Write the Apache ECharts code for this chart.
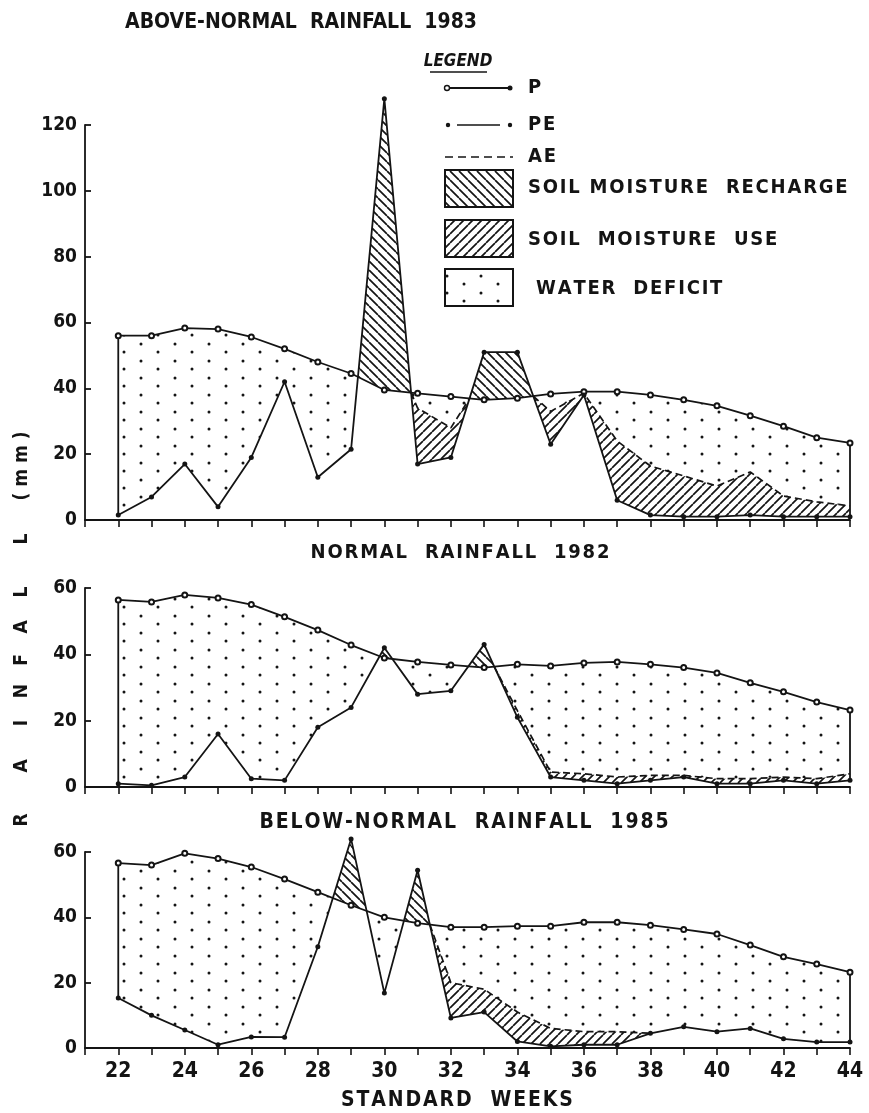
<!DOCTYPE html>
<html>
<head>
<meta charset="utf-8">
<script src="https://cdn.jsdelivr.net/npm/echarts@6/dist/echarts.min.js"></script>
<style>
html, body { margin: 0; padding: 0; background: #fff; }
#main { width: 869px; height: 1113px; }
</style>
</head>
<body>
<div id="main"></div>
<script>
// standard weeks on the x axis
var weeks = [22, 23, 24, 25, 26, 27, 28, 29, 30, 31, 32, 33, 34, 35, 36, 37, 38, 39, 40, 41, 42, 43, 44];
var weekLabels = [22, 24, 26, 28, 30, 32, 34, 36, 38, 40, 42, 44];

// above-normal 1983
var pTop  = [1.5, 7, 17, 4, 19, 42, 13, 21.5, 128, 17, 19, 51, 51, 23, 38, 6, 1.5, 1, 1, 1.5, 1, 1, 1];
var peTop = [56, 56, 58.3, 58, 55.6, 52, 48, 44.5, 39.5, 38.5, 37.5, 36.5, 37, 38.3, 39, 39, 38, 36.5, 34.7, 31.7, 28.5, 25, 23.4];
var aeTop = [1.5, 7, 17, 4, 19, 42, 13, 21.5, 39.5, 34, 28, 36.5, 37, 33, 38.5, 24, 16.4, 13.4, 10.3, 14.6, 7.3, 5.5, 4.3];

// normal 1982
var pMid  = [1, 0.5, 3, 16, 2.5, 2, 18, 24, 42, 28, 29, 43, 21, 3, 2, 1, 2, 3, 1, 1, 2, 1, 2];
var peMid = [56.4, 55.8, 57.9, 57, 55, 51.3, 47.3, 42.8, 38.9, 37.7, 36.8, 36, 37, 36.5, 37.4, 37.7, 37, 36, 34.4, 31.4, 28.7, 25.6, 23.2];
var aeMid = [1, 0.5, 3, 16, 2.5, 2, 18, 24, 38.9, 28, 29, 36, 23, 4.5, 4, 3, 3.5, 3.5, 2.5, 2.5, 3, 2.5, 4];

// below-normal 1985
var pBot  = [15.3, 10, 5.5, 1, 3.4, 3.3, 31, 64, 16.8, 54.4, 9.2, 11, 2, 0.5, 1, 1, 4.5, 6.5, 5, 6, 2.8, 1.8, 1.8];
var peBot = [56.6, 56, 59.6, 58, 55.4, 51.7, 47.7, 43.7, 40, 38.2, 37, 37, 37.3, 37.3, 38.5, 38.5, 37.6, 36.3, 34.9, 31.5, 27.9, 25.7, 23.2];
var aeBot = [15.3, 10, 5.5, 1, 3.4, 3.3, 31, 43.7, 16.8, 38.2, 20, 18, 11, 6, 5, 5, 4.5, 6.5, 5, 6, 2.8, 1.8, 1.8];

var panelTitles = ['ABOVE-NORMAL  RAINFALL  1983', 'NORMAL  RAINFALL  1982', 'BELOW-NORMAL  RAINFALL  1985'];
var yMax = [120, 60, 60];

var F = '"DejaVu Sans Condensed", "DejaVu Sans", sans-serif';
var INK = '#141414';

function hatch(dir)
{
    var s = 9;
    var c = document.createElement('canvas');
    c.width = s; c.height = s;
    var g = c.getContext('2d');
    g.strokeStyle = INK;
    g.lineWidth = 1.7;
    g.beginPath();
    for (var k = -1; k <= 1; k++) {
        if (dir > 0) {
            g.moveTo(k * s, s); g.lineTo(k * s + s, 0);
        } else {
            g.moveTo(k * s, 0); g.lineTo(k * s + s, s);
        }
    }
    g.stroke();
    return c;
}

function dots()
{
    var c = document.createElement('canvas');
    c.width = 34; c.height = 17;
    var g = c.getContext('2d');
    g.fillStyle = INK;
    g.beginPath(); g.arc(5, 4, 1.5, 0, Math.PI * 2); g.fill();
    g.beginPath(); g.arc(22, 12, 1.5, 0, Math.PI * 2); g.fill();
    return c;
}

var RECHARGE = {image: hatch(-1), repeat: 'repeat'};
var USE = {image: hatch(1), repeat: 'repeat'};
var DEFICIT = {image: dots(), repeat: 'repeat'};

// add P/PE crossings so the fills switch where the lines cross
function refine(p, pe, ae)
{
    var r = {x: [], p: [], pe: [], ae: []};
    for (var i = 0; i < weeks.length; i++) {
        var a = p[i] >= pe[i] ? pe[i] : Math.min(Math.max(ae[i], p[i]), pe[i]);
        r.x.push(weeks[i]); r.p.push(p[i]); r.pe.push(pe[i]); r.ae.push(a);
        if (i < weeks.length - 1) {
            var d0 = p[i] - pe[i], d1 = p[i + 1] - pe[i + 1];
            if (d0 * d1 < 0) {
                var t = d0 / (d0 - d1);
                var y = p[i] + t * (p[i + 1] - p[i]);
                r.x.push(weeks[i] + t * (weeks[i + 1] - weeks[i]));
                r.p.push(y); r.pe.push(y); r.ae.push(y);
            }
        }
    }
    return r;
}

// polygons where up > lo
function bands(x, up, lo)
{
    var polys = [], top = [], bot = [];
    function flush() {
        if (top.length > 1) polys.push(top.concat(bot.reverse()));
        top = []; bot = [];
    }
    for (var i = 0; i < x.length; i++) {
        var d = up[i] - lo[i];
        if (d > 0) { top.push([x[i], up[i]]); bot.push([x[i], lo[i]]); }
        if (i < x.length - 1) {
            var d1 = up[i + 1] - lo[i + 1];
            if ((d > 0) !== (d1 > 0)) {
                var t = d / (d - d1);
                var cx = x[i] + t * (x[i + 1] - x[i]);
                var cy = up[i] + t * (up[i + 1] - up[i]);
                top.push([cx, cy]); bot.push([cx, cy]);
                if (d > 0) flush();
            }
        }
    }
    flush();
    return polys;
}

function fillSeries(gi, polys, fill)
{
    return {
        type: 'custom', xAxisIndex: gi, yAxisIndex: gi, z: 1, silent: true,
        data: polys.map(function (pl) { return pl[0]; }),
        renderItem: function (params, api) {
            var pts = polys[params.dataIndex].map(function (q) { return api.coord(q); });
            return {type: 'polygon', shape: {points: pts}, style: {fill: fill, stroke: null}};
        }
    };
}

function edgeSeries(gi, p, pe)
{
    var ends = [0, weeks.length - 1];
    return {
        type: 'custom', xAxisIndex: gi, yAxisIndex: gi, z: 3, silent: true,
        data: ends.map(function (i) { return [weeks[i], pe[i], p[i]]; }),
        encode: {x: 0, y: [1, 2]},
        renderItem: function (params, api) {
            var a = api.coord([api.value(0), api.value(1)]);
            var b = api.coord([api.value(0), api.value(2)]);
            return {type: 'line', shape: {x1: a[0], y1: a[1], x2: b[0], y2: b[1]},
                    style: {stroke: INK, lineWidth: 1.8}};
        }
    };
}

function panelSeries(gi, p, pe, ae)
{
    var r = refine(p, pe, ae);
    var aeLine = [];
    for (var j = 0; j < r.x.length; j++) {
        var on = false;
        for (var k = Math.max(0, j - 1); k <= Math.min(r.x.length - 1, j + 1); k++) {
            if (r.ae[k] - r.p[k] > 0.05) on = true;
        }
        aeLine.push([r.x[j], on ? r.ae[j] : null]);
    }
    return [
        fillSeries(gi, bands(r.x, r.pe, r.ae), DEFICIT),
        fillSeries(gi, bands(r.x, r.ae, r.p), USE),
        fillSeries(gi, bands(r.x, r.p, r.pe), RECHARGE),
        edgeSeries(gi, p, pe),
        {
            name: 'PE', type: 'line', xAxisIndex: gi, yAxisIndex: gi, z: 4, clip: false,
            data: weeks.map(function (w, i) { return [w, pe[i]]; }),
            symbol: 'emptyCircle', symbolSize: 5,
            itemStyle: {color: INK, borderWidth: 1.2},
            lineStyle: {color: INK, width: 1.8}
        },
        {
            name: 'AE', type: 'line', xAxisIndex: gi, yAxisIndex: gi, z: 4, clip: false,
            data: aeLine, showSymbol: false, connectNulls: false,
            lineStyle: {color: INK, width: 1.7, type: [7, 4]}
        },
        {
            name: 'P', type: 'line', xAxisIndex: gi, yAxisIndex: gi, z: 5, clip: false,
            data: weeks.map(function (w, i) { return [w, p[i]]; }),
            symbol: 'circle', symbolSize: 5,
            itemStyle: {color: INK},
            lineStyle: {color: INK, width: 1.8}
        }
    ];
}

var grids = [
    {left: 85, right: 19, top: 125, height: 395},
    {left: 85, right: 19, top: 588, height: 199},
    {left: 85, right: 19, top: 852, height: 196}
];

var xAxes = grids.map(function (g, gi) {
    return {
        gridIndex: gi, type: 'value', min: 21, max: 44, interval: 1,
        axisLine: {lineStyle: {color: INK, width: 1.8}},
        axisTick: {show: true, length: 7, lineStyle: {color: INK, width: 1.6}},
        axisLabel: {
            show: gi === 2, margin: 13, fontSize: 21, fontWeight: 'bold', color: INK, fontFamily: F,
            formatter: function (v) { return weekLabels.indexOf(v) >= 0 ? String(v) : ''; }
        },
        splitLine: {show: false}
    };
});

var yAxes = grids.map(function (g, gi) {
    return {
        gridIndex: gi, type: 'value', min: 0, max: yMax[gi], interval: 20,
        axisLine: {show: true, lineStyle: {color: INK, width: 1.8}},
        axisTick: {show: true, inside: true, length: 6, lineStyle: {color: INK, width: 1.8}},
        axisLabel: {margin: 8, fontSize: 19, fontWeight: 'bold', color: INK, fontFamily: F},
        splitLine: {show: false}
    };
});

var series = []
    .concat(panelSeries(0, pTop, peTop, aeTop))
    .concat(panelSeries(1, pMid, peMid, aeMid))
    .concat(panelSeries(2, pBot, peBot, aeBot));

// wide lettering: a hair space between characters
function spaced(s)
{
    return s.split('').join('\u200A');
}

function txt(x, y, s, size, extra)
{
    var st = {text: s, x: x, y: y, fill: INK, font: 'bold ' + size + 'px ' + F,
              textAlign: 'center', textVerticalAlign: 'middle'};
    for (var k in extra) st[k] = extra[k];
    return {type: 'text', style: st, z: 10};
}

var graphic = [];
graphic.push(txt(301, 23, panelTitles[0], 21));
graphic.push(txt(460, 553, spaced(panelTitles[1]), 20));
graphic.push(txt(464, 823, spaced(panelTitles[2]), 21));
graphic.push(txt(457, 1101, spaced('STANDARD  WEEKS'), 21));

// vertical axis title, letter by letter
var yTitle = ['R', 'A', 'I', 'N', 'F', 'A', 'L', 'L'];
var yTitlePos = [820, 766, 723, 691, 660, 627, 592, 539];
yTitle.forEach(function (ch, i) {
    var t = txt(0, 0, ch, 19);
    t.rotation = Math.PI / 2; t.x = 22; t.y = yTitlePos[i];
    graphic.push(t);
});
var mm = txt(0, 0, '( m m )', 19);
mm.rotation = Math.PI / 2; mm.x = 22; mm.y = 466;
graphic.push(mm);

// legend
graphic.push(txt(458, 62, 'LEGEND', 16, {font: 'italic bold 17px ' + F}));
graphic.push({type: 'line', shape: {x1: 430, y1: 72, x2: 487, y2: 72}, style: {stroke: INK, lineWidth: 1.6}});
graphic.push({type: 'line', shape: {x1: 447, y1: 88, x2: 510, y2: 88}, style: {stroke: INK, lineWidth: 1.8}});
graphic.push({type: 'circle', shape: {cx: 447, cy: 88, r: 2.5}, style: {fill: '#fff', stroke: INK, lineWidth: 1.4}});
graphic.push({type: 'circle', shape: {cx: 510, cy: 88, r: 2.5}, style: {fill: INK}});
graphic.push({type: 'line', shape: {x1: 457, y1: 125, x2: 500, y2: 125}, style: {stroke: INK, lineWidth: 1.6}});
graphic.push({type: 'circle', shape: {cx: 448, cy: 125, r: 2.2}, style: {fill: INK}});
graphic.push({type: 'circle', shape: {cx: 510, cy: 125, r: 2.2}, style: {fill: INK}});
graphic.push({type: 'line', shape: {x1: 445, y1: 157, x2: 513, y2: 157}, style: {stroke: INK, lineWidth: 1.6, lineDash: [8, 5]}});
var legendText = [['P', 88], ['PE', 125], ['AE', 157], ['SOIL MOISTURE  RECHARGE', 188], ['SOIL  MOISTURE  USE', 240], [' WATER  DEFICIT', 289]];
legendText.forEach(function (lt) {
    graphic.push(txt(528, lt[1], spaced(lt[0]), 20, {textAlign: 'left'}));
});
[[170, RECHARGE], [220, USE], [269, DEFICIT]].forEach(function (b) {
    graphic.push({type: 'rect', shape: {x: 445, y: b[0], width: 68, height: 37},
                  style: {fill: b[1], stroke: INK, lineWidth: 2}, z: 10});
});

var chart = echarts.init(document.getElementById('main'), null, {renderer: 'canvas'});
chart.setOption({
    animation: false,
    backgroundColor: '#fff',
    grid: grids,
    xAxis: xAxes,
    yAxis: yAxes,
    series: series,
    graphic: graphic
});
</script>
</body>
</html>
